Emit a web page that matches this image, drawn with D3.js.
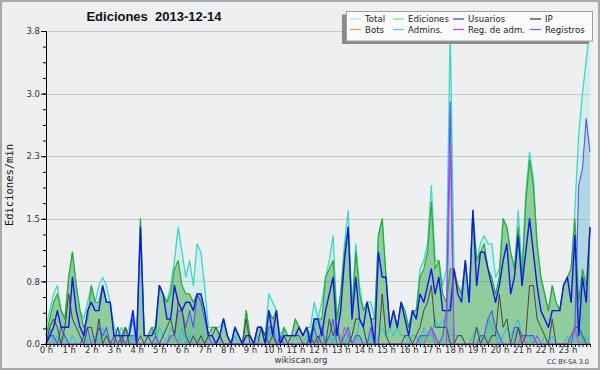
<!DOCTYPE html>
<html>
<head>
<meta charset="utf-8">
<script src="https://cdn.jsdelivr.net/npm/d3@7"></script>
<style>
body { margin: 0; background: #fff; }
svg { display: block; }
</style>
</head>
<body>
<script>
// edits per minute, one value every 10 minutes from 0:00 to 24:00 (145 values)
const total = [
    0.2,0.4,0.6,0.7,0.4,0.3, 0.8,1.1,0.7,0.4,0.3,0.5, 0.7,0.5,0.7,0.8,0.7,0.5, 0.2,0.1,0.2,0.1,0.2,0.4,
    0.1,1.5,0.1,0.1,0.2,0.2, 0.7,0.6,0.5,0.7,1.0,1.4, 1.1,0.8,1.0,0.7,1.2,1.1, 0.7,0.2,0.2,0.2,0.2,0.3,
    0.1,0.0,0.2,0.1,0.0,0.4, 0.1,0.0,0.2,0.2,0.1,0.6, 0.5,0.4,0.1,0.2,0.1,0.1, 0.3,0.2,0.1,0.2,0.2,0.5,
    0.3,0.5,0.8,1.0,1.3,0.3, 0.6,1.2,1.6,0.4,1.2,0.7, 0.4,0.5,0.5,0.3,1.3,1.5, 0.8,0.2,0.4,0.2,0.5,0.4,
    0.2,0.4,0.4,0.9,1.0,1.2, 1.9,1.0,1.0,0.7,0.9,3.8, 0.9,0.7,0.6,1.0,0.5,1.6, 1.0,1.2,1.3,1.2,1.2,0.8,
    0.9,1.5,1.4,1.1,0.9,1.6, 0.9,1.8,2.3,2.0,1.2,0.8, 0.6,0.4,0.7,0.5,0.4,0.7, 0.8,0.9,1.6,2.5,3.0,3.4,
    3.8];
const ediciones = [
    0.1,0.3,0.5,0.6,0.4,0.3, 0.8,1.1,0.7,0.4,0.2,0.3, 0.7,0.5,0.5,0.7,0.5,0.5, 0.1,0.1,0.1,0.2,0.1,0.1,
    0.1,1.5,0.1,0.1,0.2,0.1, 0.7,0.6,0.5,0.6,0.9,1.0, 0.7,0.6,0.6,0.5,0.6,0.6, 0.4,0.1,0.2,0.2,0.1,0.3,
    0.1,0.0,0.2,0.1,0.0,0.4, 0.1,0.0,0.2,0.2,0.1,0.4, 0.3,0.4,0.0,0.2,0.1,0.1, 0.3,0.2,0.1,0.2,0.1,0.3,
    0.3,0.3,0.8,0.9,1.0,0.3, 0.6,1.1,1.4,0.4,1.1,0.6, 0.4,0.5,0.3,0.3,1.3,1.5, 0.8,0.2,0.4,0.2,0.5,0.4,
    0.2,0.4,0.4,0.8,0.9,1.1, 1.7,0.9,1.0,0.6,0.5,0.9, 0.9,0.7,0.6,1.0,0.5,1.6, 1.0,1.1,1.2,0.9,0.8,0.6,
    0.8,1.5,1.4,1.1,0.9,1.4, 0.8,1.7,2.2,1.9,1.2,0.8, 0.6,0.4,0.7,0.5,0.4,0.7, 0.8,0.9,1.5,0.5,0.9,0.7,
    1.4];
const usuarios = [
    0.0,0.1,0.2,0.4,0.2,0.2, 0.2,0.8,0.4,0.2,0.1,0.4, 0.5,0.4,0.4,0.7,0.5,0.5, 0.1,0.1,0.1,0.1,0.1,0.4,
    0.0,1.4,0.1,0.1,0.1,0.2, 0.7,0.6,0.3,0.3,0.7,0.5, 0.4,0.5,0.5,0.4,0.6,0.6, 0.4,0.1,0.1,0.0,0.1,0.3,
    0.1,0.0,0.2,0.1,0.0,0.1, 0.1,0.0,0.2,0.2,0.0,0.4, 0.1,0.4,0.0,0.1,0.1,0.1, 0.1,0.2,0.1,0.2,0.0,0.3,
    0.3,0.1,0.4,0.6,0.8,0.1, 0.4,1.0,1.4,0.3,0.8,0.3, 0.2,0.5,0.3,0.0,1.1,0.8, 0.8,0.2,0.4,0.2,0.5,0.3,
    0.1,0.4,0.3,0.6,0.5,0.7, 0.9,0.6,0.8,0.4,0.4,0.4, 0.9,0.6,0.5,1.0,0.5,1.6, 0.7,1.1,1.1,0.9,0.7,0.5,
    0.7,1.0,1.2,0.6,0.8,1.3, 0.7,1.1,1.5,1.1,0.7,0.4, 0.3,0.2,0.4,0.4,0.4,0.7, 0.8,0.5,1.3,0.1,0.8,0.5,
    1.4];
const ip = [
    0.0,0.2,0.3,0.2,0.0,0.2, 0.6,0.3,0.2,0.1,0.0,0.2, 0.2,0.0,0.3,0.0,0.1,0.0, 0.0,0.2,0.0,0.2,0.0,0.0,
    0.0,0.1,0.0,0.1,0.0,0.0, 0.0,0.1,0.2,0.3,0.1,0.5, 0.4,0.1,0.0,0.1,0.0,0.1, 0.0,0.1,0.1,0.2,0.1,0.0,
    0.0,0.0,0.0,0.0,0.0,0.3, 0.0,0.0,0.0,0.2,0.1,0.0, 0.1,0.0,0.0,0.1,0.0,0.1, 0.1,0.1,0.0,0.0,0.1,0.0,
    0.1,0.0,0.0,0.3,0.1,0.2, 0.0,0.0,0.0,0.1,0.3,0.3, 0.2,0.0,0.0,0.0,0.0,0.6, 0.1,0.0,0.0,0.0,0.0,0.1,
    0.1,0.0,0.1,0.2,0.4,0.5, 0.7,0.2,0.2,0.2,0.2,0.0, 0.0,0.1,0.1,0.0,0.0,0.0, 0.2,0.0,0.1,0.0,0.1,0.1,
    0.6,0.2,0.3,0.0,0.0,0.2, 0.0,0.1,0.7,0.7,0.3,0.2, 0.1,0.0,0.3,0.0,0.0,0.0, 0.0,0.1,0.2,0.2,0.1,0.0,
    0.0];
const admins = [
    0.1,0.2,0.0,0.1,0.0,0.1, 0.0,0.1,0.0,0.0,0.1,0.0, 0.0,0.1,0.0,0.2,0.1,0.0, 0.1,0.2,0.1,0.0,0.0,0.1,
    0.0,0.0,0.0,0.1,0.0,0.0, 0.2,0.1,0.0,0.2,0.1,0.0, 0.2,0.0,0.1,0.0,0.0,0.0, 0.0,0.1,0.0,0.0,0.1,0.0,
    0.0,0.0,0.1,0.0,0.0,0.0, 0.0,0.0,0.1,0.0,0.0,0.1, 0.2,0.1,0.0,0.1,0.0,0.0, 0.1,0.0,0.0,0.1,0.0,0.2,
    0.3,0.2,0.0,0.1,0.0,0.2, 0.1,0.0,0.1,0.0,0.0,0.3, 0.2,0.0,0.1,0.0,0.1,0.2, 0.1,0.2,0.1,0.2,0.1,0.1,
    0.0,0.1,0.1,0.0,0.2,0.1, 0.1,0.3,0.2,0.3,0.2,0.1, 0.1,0.1,0.1,0.0,0.0,0.1, 0.2,0.1,0.1,0.3,0.2,0.1,
    0.0,0.1,0.2,0.1,0.2,0.3, 0.1,0.1,0.1,0.0,0.1,0.0, 0.1,0.0,0.1,0.0,0.0,0.0, 0.1,0.0,0.1,0.2,0.0,0.1,
    0.0];
const regAdm = [
    0,0,0,0,0,0, 0,0,0,0,0,0, 0,0,0,0,0,0, 0,0,0,0,0,0,
    0,0,0,0,0,0, 0,0,0,0.1,0.1,0, 0,0,0,0,0,0, 0,0,0,0,0,0,
    0,0,0,0,0,0, 0,0,0,0,0,0, 0,0,0,0,0,0, 0,0,0,0,0,0,
    0,0,0,0,0,0, 0,0.2,0.1,0,0,0, 0,0,0,0,0,0, 0,0,0,0,0,0,
    0,0,0,0,0,0.1, 0.2,0,0,0,0,2.4, 0,0,0,0,0,0, 0,0,0,0,0,0,
    0,0,0,0,0,0, 0.1,0,0,0,0.1,0, 0,0,0,0,0,0, 0,0.1,0.2,0,0,0,
    0];
const registros = [
    0.0,0.1,0.1,0.0,0.2,0.1, 0.0,0.0,0.0,0.0,0.1,0.2, 0.0,0.0,0.2,0.1,0.2,0.0, 0.1,0.0,0.1,0.0,0.1,0.3,
    0.0,0.0,0.0,0.0,0.0,0.1, 0.0,0.0,0.0,0.1,0.1,0.4, 0.4,0.2,0.4,0.2,0.6,0.5, 0.3,0.1,0.0,0.0,0.1,0.0,
    0.0,0.0,0.0,0.0,0.0,0.0, 0.0,0.0,0.0,0.0,0.0,0.2, 0.2,0.0,0.1,0.0,0.0,0.0, 0.0,0.0,0.0,0.0,0.1,0.2,
    0.0,0.2,0.0,0.1,0.3,0.0, 0.0,0.1,0.2,0.0,0.1,0.1, 0.0,0.0,0.2,0.0,0.0,0.0, 0.0,0.0,0.0,0.0,0.0,0.0,
    0.0,0.0,0.0,0.1,0.1,0.1, 0.2,0.1,0.0,0.1,0.4,2.9, 0.0,0.0,0.0,0.0,0.0,0.0, 0.0,0.1,0.1,0.3,0.4,0.2,
    0.1,0.0,0.0,0.0,0.2,0.2, 0.1,0.1,0.1,0.1,0.0,0.0, 0.0,0.0,0.0,0.0,0.0,0.0, 0.0,0.0,0.2,1.9,2.1,2.7,
    2.3];

const yTickValues = [0, 0.75, 1.5, 2.25, 3, 3.75];
const hourTicks = d3.range(0, 24);

const legendNames = ["Total", "Ediciones", "Usuarios", "IP", "Bots", "Admins.", "Reg. de adm.", "Registros"];
const legendColors = ["#a6e6e0", "#8fd08f", "#3434dc", "#333333", "#f0a040", "#44c8e0", "#cc44dd", "#6a6aee"];

// create svg canvas
const canvWidth = 600, canvHeight = 370;
const svg = d3.select("body").append("svg")
    .attr("width", canvWidth)
    .attr("height", canvHeight);

const margin = {top: 31, right: 10, bottom: 26, left: 46};
const width = canvWidth - margin.left - margin.right;
const height = canvHeight - margin.top - margin.bottom;

// background + border
svg.append("rect")
    .attr("x", 1).attr("y", 1)
    .attr("width", canvWidth - 2).attr("height", canvHeight - 2)
    .attr("fill", "#eeeff1")
    .attr("stroke", "#a9a9a9")
    .attr("stroke-width", 2);

// title (keep the double space)
svg.append("text")
    .attr("x", 154)
    .attr("y", 21)
    .attr("font-family", "Liberation Sans, Arial, sans-serif")
    .attr("font-weight", "bold")
    .attr("font-size", "13px")
    .attr("fill", "#111")
    .style("white-space", "pre")
    .style("text-anchor", "middle")
    .text("Ediciones  2013-12-14");

// y label
svg.append("text")
    .attr("transform", "translate(13,185) rotate(-90)")
    .attr("font-family", "DejaVu Sans Mono, monospace")
    .attr("font-size", "10.5px")
    .attr("fill", "#111")
    .style("text-anchor", "middle")
    .text("Ediciones/min");

const g = svg.append("g")
    .attr("transform", "translate(" + margin.left + "," + margin.top + ")");

const x = d3.scaleLinear().domain([0, 24]).range([0, width]);
const y = d3.scaleLinear().domain([0, 3.75]).range([height, 0]);
const t = (d, i) => x(i / 6);

// grid lines
g.selectAll("line.grid")
    .data(yTickValues.slice(1))
    .join("line")
    .attr("class", "grid")
    .attr("x1", 0).attr("x2", width)
    .attr("y1", d => Math.round(y(d)) + 0.5)
    .attr("y2", d => Math.round(y(d)) + 0.5)
    .attr("stroke", "#c9c9c9")
    .attr("stroke-width", 1);

// filled areas
const area = d3.area().x(t).y0(height).y1(d => y(d));
const line = d3.line().x(t).y(d => y(d));

g.append("path").datum(total).attr("d", area).attr("fill", "rgba(64,224,208,0.14)");
g.append("path").datum(registros).attr("d", area).attr("fill", "rgba(110,175,215,0.35)");
g.append("path").datum(ediciones).attr("d", area).attr("fill", "rgba(60,165,60,0.45)");

// lines
const series = [
    {values: total, color: "#3ed8c6", w: 1.3},
    {values: ediciones, color: "#2fa82f", w: 1.2},
    {values: admins, color: "#22c2de", w: 1},
    {values: registros, color: "#5555ee", w: 1.1},
    {values: ip, color: "#444444", w: 1},
    {values: usuarios, color: "#1414ee", w: 1.4},
    {values: regAdm, color: "#c040e0", w: 1}
];
series.forEach(s => {
    g.append("path")
        .datum(s.values)
        .attr("d", line)
        .attr("fill", "none")
        .attr("stroke", s.color)
        .attr("stroke-width", s.w)
        .attr("stroke-linejoin", "round");
});

// axes
function styleAxis(sel) {
    sel.attr("font-family", "DejaVu Sans, sans-serif").attr("font-size", "8.5px");
    sel.selectAll("text").attr("fill", "#333");
    sel.selectAll("line").attr("stroke", "#000");
    sel.select(".domain").attr("stroke", "#000");
}

g.append("g")
    .call(d3.axisLeft(y).tickValues(d3.range(0, 3.76, 0.1875)).tickSize(3).tickSizeOuter(0).tickFormat(""))
    .call(styleAxis);
g.append("g")
    .call(d3.axisLeft(y).tickValues(yTickValues).tickSize(5).tickSizeOuter(0).tickPadding(1).tickFormat(d3.format(".1f")))
    .call(styleAxis);

g.append("g")
    .attr("transform", "translate(0," + height + ")")
    .call(d3.axisBottom(x).tickValues(d3.range(0, 145).map(i => i / 6)).tickSize(3).tickSizeOuter(0).tickFormat(""))
    .call(styleAxis);
g.append("g")
    .attr("transform", "translate(0," + height + ")")
    .call(d3.axisBottom(x).tickValues(hourTicks).tickSize(3).tickSizeOuter(0).tickPadding(0).tickFormat(d => d + " h"))
    .call(styleAxis);

// footer
svg.append("text")
    .attr("x", 301).attr("y", 363)
    .attr("font-family", "DejaVu Sans, sans-serif")
    .attr("font-size", "8.5px")
    .attr("fill", "#333")
    .style("text-anchor", "middle")
    .text("wikiscan.org");
svg.append("text")
    .attr("x", 589).attr("y", 364)
    .attr("font-family", "DejaVu Sans, sans-serif")
    .attr("font-size", "6.5px")
    .attr("fill", "#333")
    .style("text-anchor", "end")
    .text("CC BY-SA 3.0");

// legend
const legend = svg.append("g").attr("id", "legend");
legend.append("rect")
    .attr("x", 342).attr("y", 14.5)
    .attr("width", 247).attr("height", 29.5)
    .attr("fill", "#8a8a8a");
legend.append("rect")
    .attr("x", 346.5).attr("y", 11.5)
    .attr("width", 246).attr("height", 29.5)
    .attr("fill", "#fbfbfb")
    .attr("stroke", "#a0a0a0")
    .attr("stroke-width", 1);

const colX = [350, 393, 453, 530];
const legendEntry = legend.selectAll("g.entry")
    .data(legendNames)
    .join("g")
    .attr("class", "entry")
    .attr("transform", (d, i) => "translate(" + colX[i % 4] + "," + (i < 4 ? 19 : 29.5) + ")");

legendEntry.append("line")
    .attr("x1", 0).attr("x2", 11)
    .attr("stroke", (d, i) => legendColors[i])
    .attr("stroke-width", 1.2);

legendEntry.append("text")
    .attr("x", 15)
    .attr("y", 3.2)
    .attr("font-family", "DejaVu Sans, sans-serif")
    .attr("font-size", "8.6px")
    .attr("fill", "#222")
    .text(d => d);
</script>
</body>
</html>
